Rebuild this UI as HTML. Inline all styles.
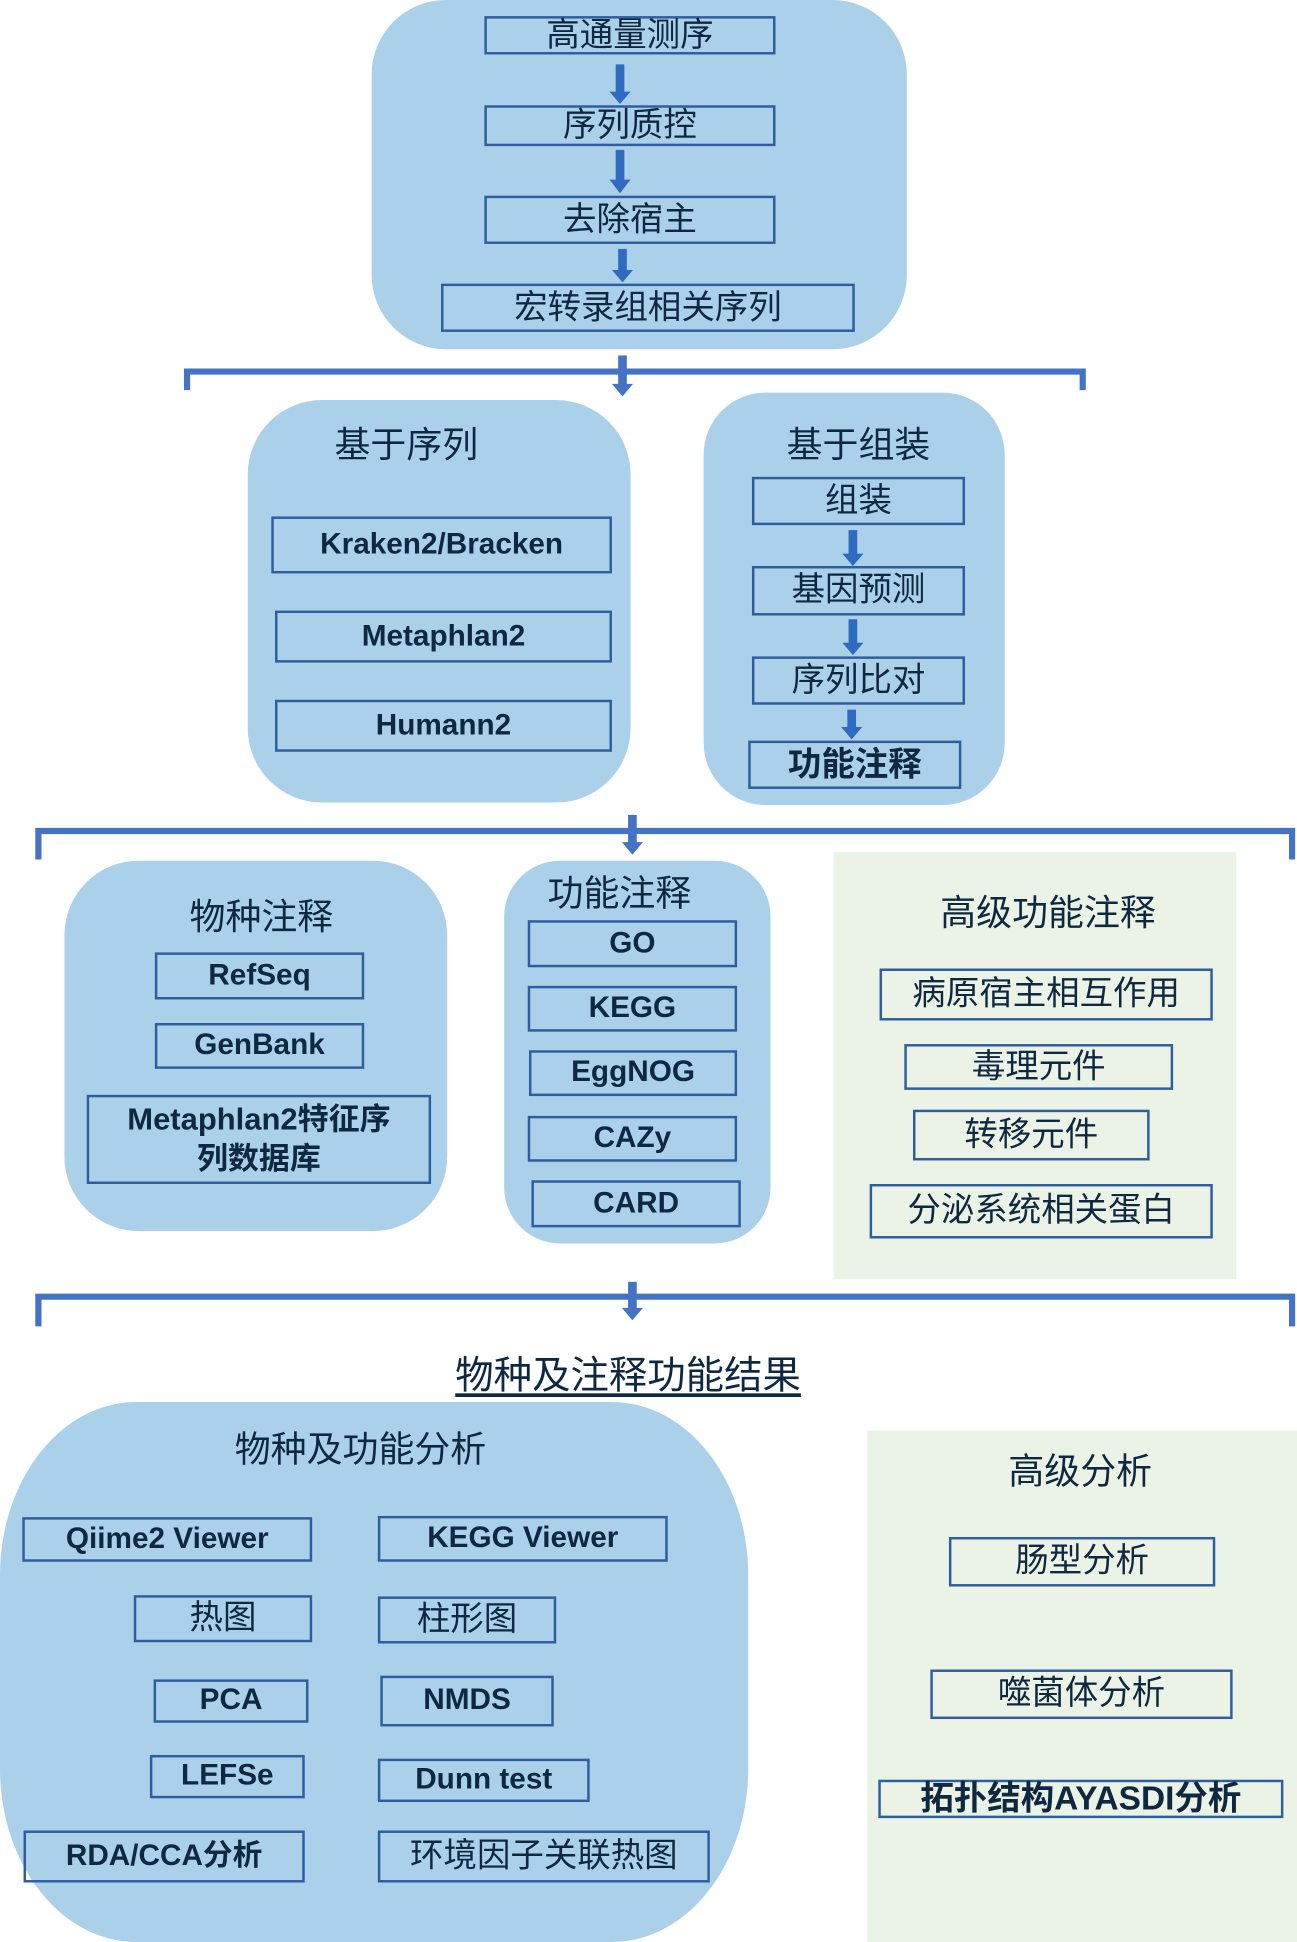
<!DOCTYPE html>
<html><head><meta charset="utf-8"><style>
html,body{margin:0;padding:0;background:#fff;width:1297px;height:1942px;overflow:hidden}
#w{position:absolute;left:0;top:0;width:1047px;height:1568px;transform:scale(1.2388,1.2385);transform-origin:0 0;font-family:"Liberation Sans","Noto Sans CJK SC",sans-serif;color:#0e2841}
.r{position:absolute;background:#abd0ea}
.g{position:absolute;background:#ebf3e6}
.b{position:absolute;box-sizing:border-box;border:2px solid #2e5e9e;display:flex;align-items:center;justify-content:center;font-size:27px;white-space:nowrap;line-height:1.1;text-align:center}
.e{font-weight:bold;font-size:24px}
.t{position:absolute;font-size:29px;white-space:nowrap;transform:translateX(-50%)}
svg{position:absolute;left:0;top:0}
</style></head><body><div id="w">
<div class="r" style="left:300px;top:0;width:432px;height:282px;border-radius:60px"></div>
<div class="r" style="left:200px;top:323px;width:309px;height:325px;border-radius:60px"></div>
<div class="r" style="left:568px;top:317px;width:243px;height:333px;border-radius:50px"></div>
<div class="r" style="left:52px;top:695px;width:309px;height:299px;border-radius:60px"></div>
<div class="r" style="left:407px;top:695px;width:215px;height:309px;border-radius:45px"></div>
<div class="g" style="left:673px;top:688px;width:325px;height:345px"></div>
<div class="r" style="left:0;top:1132px;width:604px;height:436px;border-radius:110px/140px"></div>
<div class="g" style="left:700px;top:1155px;width:347px;height:413px"></div>

<svg width="1047" height="1568" viewBox="0 0 1047 1568">
<g fill="#2f6bbf">
<rect x="497" y="52" width="7" height="24"/><polygon points="492,74 509,74 500.5,84"/>
<rect x="497" y="121" width="7" height="26"/><polygon points="492,145 509,145 500.5,156"/>
<rect x="499" y="201" width="7" height="20"/><polygon points="494,218 511,218 502.5,228"/>
<rect x="685" y="428" width="7" height="21"/><polygon points="680,447 697,447 688.5,457"/>
<rect x="685" y="500" width="7" height="21"/><polygon points="680,519 697,519 688.5,529"/>
<rect x="684" y="573" width="7" height="16"/><polygon points="679,587 696,587 687.5,597"/>
</g>
<g fill="none" stroke="#4472c4" stroke-width="5">
<polyline points="151,315 151,300 874,300 874,315"/>
<polyline points="31,694 31,671 1043,671 1043,694"/>
<polyline points="31,1071 31,1047 1043,1047 1043,1071"/>
</g>
<g fill="#4472c4">
<rect x="499" y="287" width="7" height="25"/><polygon points="494,310 511,310 502.5,320"/>
<rect x="507" y="658" width="7" height="24"/><polygon points="502,680 519,680 510.5,690"/>
<rect x="507" y="1035" width="7" height="22"/><polygon points="502,1056 519,1056 510.5,1066"/>
</g>
</svg>

<div class="b" style="left:391px;top:13px;width:235px;height:31px">高通量测序</div>
<div class="b" style="left:391px;top:85px;width:235px;height:33px">序列质控</div>
<div class="b" style="left:391px;top:158px;width:235px;height:39px">去除宿主</div>
<div class="b" style="left:356px;top:229px;width:334px;height:39px">宏转录组相关序列</div>

<div class="t" style="left:328px;top:336px">基于序列</div>
<div class="b e" style="left:219px;top:417px;width:275px;height:46px">Kraken2/Bracken</div>
<div class="b e" style="left:222px;top:493px;width:272px;height:42px">Metaphlan2</div>
<div class="b e" style="left:222px;top:565px;width:272px;height:42px">Humann2</div>

<div class="t" style="left:693px;top:336px">基于组装</div>
<div class="b" style="left:607px;top:385px;width:172px;height:39px">组装</div>
<div class="b" style="left:607px;top:457px;width:172px;height:40px">基因预测</div>
<div class="b" style="left:607px;top:530px;width:172px;height:39px">序列比对</div>
<div class="b" style="left:604px;top:598px;width:172px;height:39px;font-weight:bold">功能注释</div>

<div class="t" style="left:211px;top:717px">物种注释</div>
<div class="b e" style="left:125px;top:769px;width:169px;height:38px">RefSeq</div>
<div class="b e" style="left:125px;top:826px;width:169px;height:37px">GenBank</div>
<div class="b e" style="left:70px;top:884px;width:278px;height:72px;font-size:25px;line-height:1.3">Metaphlan2特征序<br>列数据库</div>

<div class="t" style="left:500px;top:698px">功能注释</div>
<div class="b e" style="left:426px;top:743px;width:169px;height:38px">GO</div>
<div class="b e" style="left:426px;top:796px;width:169px;height:37px">KEGG</div>
<div class="b e" style="left:427px;top:848px;width:168px;height:37px">EggNOG</div>
<div class="b e" style="left:426px;top:901px;width:169px;height:37px">CAZy</div>
<div class="b e" style="left:429px;top:953px;width:169px;height:38px">CARD</div>

<div class="t" style="left:846px;top:714px">高级功能注释</div>
<div class="b" style="left:710px;top:782px;width:269px;height:42px">病原宿主相互作用</div>
<div class="b" style="left:730px;top:843px;width:217px;height:37px">毒理元件</div>
<div class="b" style="left:737px;top:896px;width:191px;height:41px">转移元件</div>
<div class="b" style="left:702px;top:956px;width:277px;height:44px">分泌系统相关蛋白</div>

<div class="t" style="left:507px;top:1085px;font-size:31px;text-decoration:underline;text-underline-offset:4px">物种及注释功能结果</div>

<div class="t" style="left:291px;top:1147px">物种及功能分析</div>
<div class="b e" style="left:18px;top:1225px;width:234px;height:36px">Qiime2 Viewer</div>
<div class="b e" style="left:305px;top:1224px;width:234px;height:37px">KEGG Viewer</div>
<div class="b" style="left:108px;top:1288px;width:144px;height:38px">热图</div>
<div class="b" style="left:305px;top:1289px;width:144px;height:38px">柱形图</div>
<div class="b e" style="left:124px;top:1356px;width:125px;height:35px">PCA</div>
<div class="b e" style="left:307px;top:1353px;width:140px;height:41px">NMDS</div>
<div class="b e" style="left:121px;top:1417px;width:125px;height:35px">LEFSe</div>
<div class="b e" style="left:305px;top:1420px;width:171px;height:35px">Dunn test</div>
<div class="b e" style="left:19px;top:1478px;width:227px;height:42px">RDA/CCA分析</div>
<div class="b" style="left:305px;top:1478px;width:268px;height:42px">环境因子关联热图</div>

<div class="t" style="left:872px;top:1165px">高级分析</div>
<div class="b" style="left:766px;top:1241px;width:215px;height:40px">肠型分析</div>
<div class="b" style="left:751px;top:1348px;width:244px;height:40px">噬菌体分析</div>
<div class="b" style="left:709px;top:1437px;width:327px;height:31px;font-weight:bold">拓扑结构AYASDI分析</div>
</div></body></html>
